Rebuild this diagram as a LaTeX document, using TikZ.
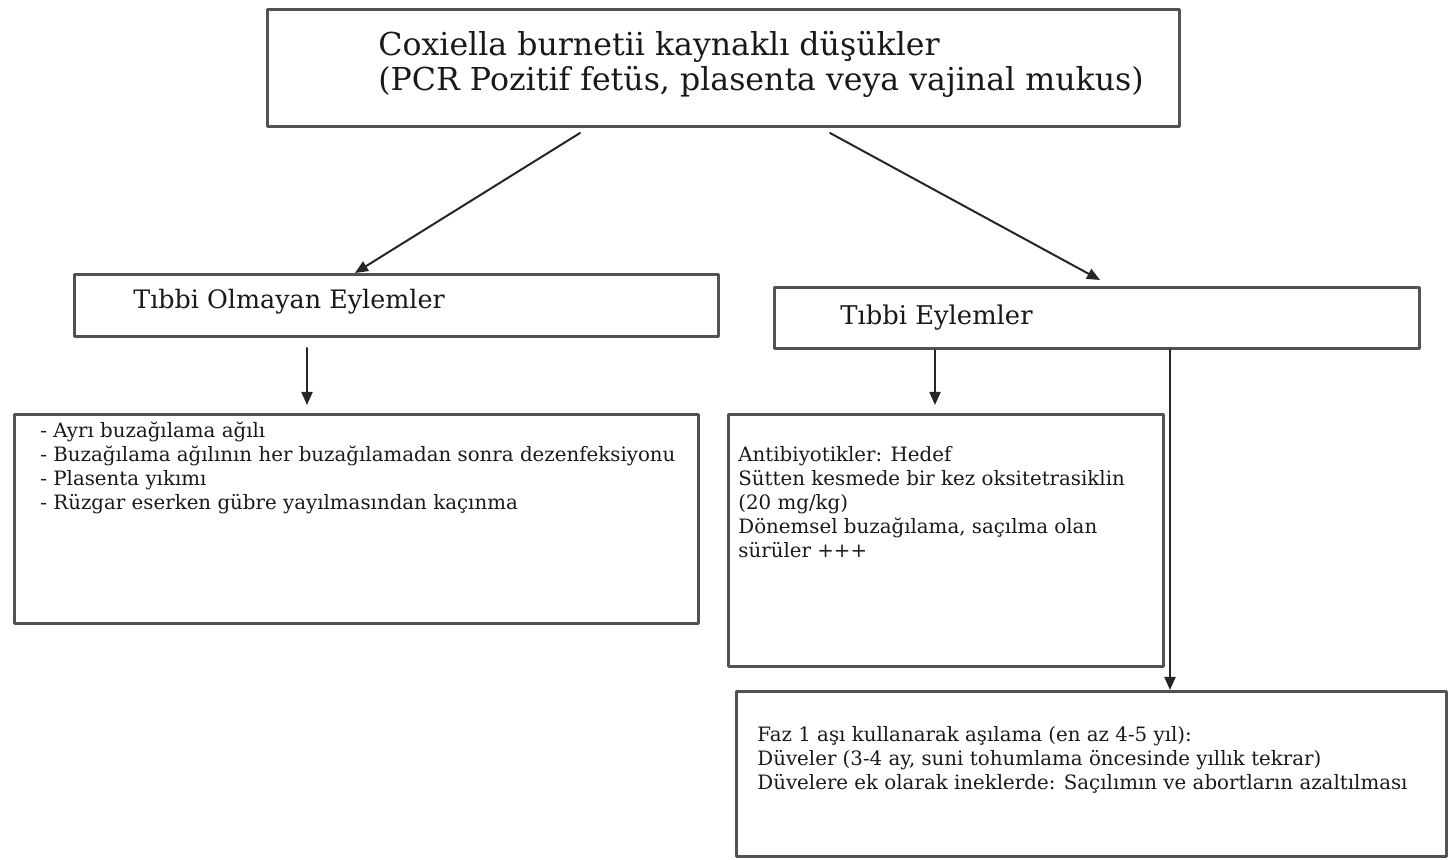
\documentclass[tikz,border=0pt]{standalone}
\usepackage{fontspec}
\setmainfont{DejaVu Serif}
\usetikzlibrary{arrows.meta, positioning}

\begin{document}
\begin{tikzpicture}[x=0.5pt, y=-0.5pt, >={Triangle[length=6.5pt, width=5.5pt]},
	line cap=round, line join=round,
	box/.style={draw=black!68, line width=1.5pt, inner sep=0pt, anchor=north west},
	lbl/.style={anchor=west, inner sep=0pt, align=left, text=black!90},
	conn/.style={->, draw=black!85, line width=1pt}]

\useasboundingbox (0,0) rectangle (1448,860);

% ===== Boxes =====
\node[box, minimum width=456pt, minimum height=58.5pt] (top) at (266,8) {};
\node[box, minimum width=322pt, minimum height=31pt] (lmid) at (73,273) {};
\node[box, minimum width=322.5pt, minimum height=30.5pt] (rmid) at (773,286) {};
\node[box, minimum width=342pt, minimum height=104.5pt] (lbig) at (13,413) {};
\node[box, minimum width=217.5pt, minimum height=126pt] (rsmall) at (727,413) {};
\node[box, minimum width=355pt, minimum height=82.5pt] (bot) at (735,690) {};

% ===== Texts =====
\node[lbl, font=\fontsize{15.8}{17.5}\selectfont] (ttl) at (378,64)
	{Coxiella burnetii kaynaklı düşükler\\(PCR Pozitif fetüs, plasenta veya vajinal mukus)};
\node[lbl, font=\fontsize{12.7}{15}\selectfont] (lttl) at (133,302) {Tıbbi Olmayan Eylemler};
\node[lbl, font=\fontsize{12.9}{15}\selectfont] (rttl) at (840,318) {Tıbbi Eylemler};

\node[lbl, font=\fontsize{9.9}{12}\selectfont] (ltxt) at (40,468)
	{- Ayrı buzağılama ağılı\\
	 - Buzağılama ağılının her buzağılamadan sonra dezenfeksiyonu\\
	 - Plasenta yıkımı\\
	 - Rüzgar eserken gübre yayılmasından kaçınma};
\node[lbl, font=\fontsize{9.9}{12}\selectfont] (rtxt) at (738,502)
	{Antibiyotikler: Hedef\\
	 Sütten kesmede bir kez oksitetrasiklin\\
	 (20 mg/kg)\\
	 Dönemsel buzağılama, saçılma olan\\
	 sürüler +++};
\node[lbl, font=\fontsize{9.9}{12}\selectfont] (btxt) at (757,760)
	{Faz 1 aşı kullanarak aşılama (en az 4-5 yıl):\\
	 Düveler (3-4 ay, suni tohumlama öncesinde yıllık tekrar)\\
	 Düvelere ek olarak ineklerde: Saçılımın ve abortların azaltılması};

% ===== Connectors =====
\draw[conn] ([xshift=157pt, yshift=-2.5pt]top.south west) -- ([xshift=141pt]lmid.north west);
\draw[conn] ([xshift=282pt, yshift=-2.5pt]top.south west) -- ([xshift=163.5pt, yshift=3pt]rmid.north west);
\draw[conn] ([xshift=117pt, yshift=-5pt]lmid.south west) -- ([xshift=147pt, yshift=4pt]lbig.north west);
\draw[conn] ([xshift=81pt]rmid.south west) -- ([xshift=104pt, yshift=4pt]rsmall.north west);
\draw[conn] ([xshift=198.5pt]rmid.south west) -- ([xshift=217.5pt]bot.north west);

\end{tikzpicture}
\end{document}
